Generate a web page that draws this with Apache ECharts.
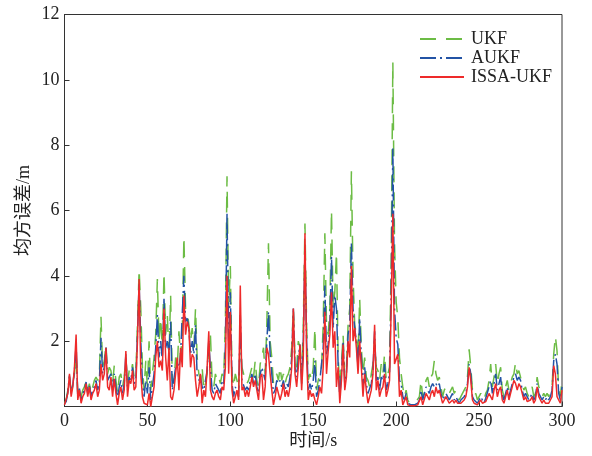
<!DOCTYPE html>
<html>
<head>
<meta charset="utf-8">
<script src="https://cdn.jsdelivr.net/npm/echarts@6/dist/echarts.min.js"></script>
<style>
  html, body { margin: 0; padding: 0; background: #fff; }
  #chart { width: 592px; height: 456px; }
</style>
</head>
<body>
<div id="chart"></div>
<script>
// Sampling: one value per second, t = 0 .. 300 s
const sampleStep = 1;

// UKF mean square error (m)
const ukf = [
  0.1, 0.2, 0.5, 0.9, 0.5, 0.7, 1.0, 1.6, 0.4, 0.6,
  0.3, 0.5, 0.6, 0.8, 0.5, 0.7, 0.4, 0.6, 0.8, 0.9,
  0.8, 0.9, 2.75, 1.2, 1.4, 1.9, 1.0, 1.2, 1.1, 0.7,
  1.25, 0.8, 0.4, 0.9, 1.0, 0.6, 0.9, 1.5, 0.7, 1.1,
  1.0, 1.3, 0.9, 1.0, 2.5, 4.2, 3.0, 1.2, 0.5, 1.4,
  0.6, 2.0, 0.5, 1.0, 1.5, 2.2, 3.9, 2.0, 2.7, 1.8,
  4.1, 2.2, 2.8, 1.5, 3.4, 0.8, 0.7, 1.5, 1.2, 2.3,
  1.5, 2.2, 5.2, 3.0, 2.9, 2.5, 2.0, 2.4, 1.8, 3.0,
  1.5, 1.0, 0.8, 1.2, 0.5, 0.7, 1.0, 1.8, 2.2, 0.8,
  0.6, 1.0, 0.8, 0.9, 0.7, 1.0, 0.9, 2.5, 7.05, 3.0,
  4.3, 1.0, 0.6, 1.0, 0.8, 0.5, 2.2, 1.2, 1.0, 0.8,
  0.7, 0.8, 1.0, 1.2, 0.9, 1.4, 0.8, 0.6, 1.3, 1.5,
  1.8, 1.0, 2.5, 5.0, 2.0, 1.5, 0.7, 0.9, 1.0, 0.8,
  1.2, 0.8, 1.0, 0.7, 0.9, 1.0, 1.2, 1.8, 3.0, 1.5,
  1.2, 2.0, 1.8, 1.0, 2.5, 5.6, 2.5, 0.8, 1.0, 0.8,
  1.2, 2.4, 0.5, 0.8, 1.0, 1.2, 2.5, 5.3, 2.5, 2.2,
  3.0, 6.0, 3.0, 3.5, 4.7, 1.5, 0.6, 1.3, 2.2, 0.9,
  1.2, 2.5, 3.0, 7.2, 4.0, 2.5, 2.2, 1.5, 3.3, 1.8,
  1.0, 1.5, 0.9, 0.8, 0.6, 1.0, 1.3, 2.0, 1.2, 1.1,
  0.8, 1.3, 1.0, 1.6, 0.8, 1.0, 1.2, 4.5, 10.55, 5.0,
  3.2, 2.7, 1.5, 1.0, 0.6, 0.3, 0.5, 0.2, 0.1, 0.1,
  0.1, 0.1, 0.15, 0.2, 0.3, 0.8, 0.3, 0.4, 0.8, 0.9,
  0.6, 0.9, 1.0, 1.4, 1.0, 0.8, 0.9, 0.6, 0.3, 0.5,
  0.6, 0.5, 0.4, 0.5, 0.6, 0.4, 0.5, 0.3, 0.2, 0.3,
  0.4, 0.5, 0.6, 0.9, 1.75, 1.2, 0.5, 0.3, 0.4, 0.2,
  0.3, 0.4, 0.3, 0.2, 0.4, 0.5, 0.8, 1.3, 0.6, 0.9,
  1.3, 0.7, 1.0, 1.2, 0.5, 0.3, 0.6, 0.8, 0.5, 0.7,
  0.9, 1.0, 1.35, 1.0, 1.1, 0.9, 0.7, 0.5, 0.6, 0.4,
  0.3, 0.5, 0.6, 0.3, 0.4, 0.9, 0.6, 0.5, 0.3, 0.4,
  0.3, 0.4, 0.3, 0.5, 0.6, 1.6, 2.15, 1.7, 0.5, 0.3,
  0.8
];

// AUKF mean square error (m)
const aukf = [
  0.08, 0.15, 0.45, 0.95, 0.4, 0.65, 1.1, 1.9, 0.3, 0.55,
  0.2, 0.4, 0.5, 0.75, 0.4, 0.65, 0.3, 0.5, 0.6, 0.8,
  0.5, 0.7, 2.1, 1.0, 1.2, 1.85, 0.8, 0.8, 1.0, 0.5,
  1.0, 0.6, 0.2, 0.6, 0.8, 0.4, 0.7, 1.6, 0.5, 0.9,
  0.8, 1.2, 0.7, 0.8, 2.2, 3.8, 2.0, 0.7, 0.3, 0.8,
  0.4, 1.2, 0.2, 0.6, 1.0, 1.8, 2.8, 1.5, 2.0, 1.4,
  3.3, 1.8, 2.0, 1.6, 2.6, 0.5, 0.5, 1.2, 1.3, 1.2,
  1.6, 1.6, 4.0, 2.6, 2.7, 2.4, 1.6, 2.0, 1.6, 2.5,
  0.9, 0.8, 0.9, 0.6, 0.5, 0.5, 1.1, 2.0, 1.2, 0.5,
  0.4, 0.7, 0.6, 0.6, 0.4, 0.8, 0.7, 1.8, 5.9, 2.0,
  3.5, 0.7, 0.3, 0.6, 0.6, 0.3, 2.8, 0.8, 0.8, 0.5,
  0.6, 0.5, 0.8, 1.0, 0.7, 1.0, 0.6, 0.4, 1.0, 1.2,
  1.2, 0.8, 2.0, 2.9, 1.6, 1.0, 0.4, 0.5, 0.8, 0.7,
  0.8, 0.6, 0.8, 0.5, 0.7, 0.6, 0.9, 1.5, 3.0, 1.2,
  0.9, 1.5, 1.9, 0.7, 2.0, 4.8, 2.0, 0.5, 0.7, 0.5,
  0.8, 1.4, 0.3, 0.5, 0.8, 0.8, 1.8, 3.7, 1.6, 1.9,
  2.5, 4.6, 2.4, 3.4, 3.0, 1.3, 0.3, 1.0, 2.0, 0.7,
  1.0, 2.2, 2.5, 5.0, 3.0, 2.4, 2.0, 1.2, 2.7, 1.5,
  0.6, 1.2, 0.7, 0.4, 0.4, 0.7, 1.1, 2.3, 0.8, 0.9,
  0.5, 0.9, 0.8, 1.3, 0.5, 0.7, 1.0, 3.5, 7.9, 3.0,
  2.1, 1.9, 0.8, 0.7, 0.3, 0.2, 0.4, 0.1, 0.05, 0.05,
  0.05, 0.05, 0.08, 0.1, 0.2, 0.5, 0.2, 0.25, 0.6, 0.5,
  0.4, 0.6, 0.7, 0.6, 0.7, 0.6, 0.7, 0.4, 0.2, 0.3,
  0.4, 0.3, 0.2, 0.3, 0.4, 0.2, 0.3, 0.2, 0.1, 0.2,
  0.25, 0.3, 0.4, 0.7, 1.3, 1.0, 0.3, 0.2, 0.25, 0.1,
  0.2, 0.3, 0.2, 0.1, 0.25, 0.3, 0.6, 0.8, 0.4, 0.7,
  1.0, 0.5, 0.7, 0.9, 0.35, 0.2, 0.4, 0.6, 0.3, 0.5,
  0.7, 0.9, 1.0, 0.8, 0.9, 0.8, 0.5, 0.3, 0.4, 0.3,
  0.2, 0.3, 0.4, 0.2, 0.3, 0.7, 0.4, 0.3, 0.2, 0.3,
  0.2, 0.3, 0.2, 0.3, 0.5, 1.4, 1.6, 1.3, 0.4, 0.2,
  0.6
];

// ISSA-UKF mean square error (m)
const issaUkf = [
  0.05, 0.1, 0.4, 1.0, 0.3, 0.6, 1.2, 2.2, 0.2, 0.5,
  0.1, 0.3, 0.4, 0.7, 0.3, 0.6, 0.2, 0.4, 0.5, 0.7,
  0.3, 0.5, 1.3, 0.8, 1.0, 1.8, 0.6, 0.5, 0.9, 0.3,
  0.85, 0.4, 0.05, 0.4, 0.6, 0.2, 0.5, 1.7, 0.3, 0.8,
  0.7, 1.1, 0.5, 0.6, 2.0, 3.9, 1.0, 0.3, 0.1, 0.15,
  0.05, 0.4, 0.0, 0.3, 0.6, 1.5, 2.0, 1.2, 1.4, 1.1,
  3.0, 1.5, 0.8, 1.8, 0.3, 0.2, 0.5, 1.0, 1.5, 0.5,
  1.8, 1.2, 3.4, 2.2, 2.6, 2.4, 1.2, 1.6, 1.5, 0.8,
  0.3, 0.6, 1.0, 0.1, 0.5, 0.3, 1.2, 2.3, 0.5, 0.3,
  0.2, 0.4, 0.5, 0.3, 0.2, 0.6, 0.5, 1.2, 4.0, 1.0,
  2.9, 0.5, 0.1, 0.3, 0.5, 0.2, 3.7, 0.5, 0.6, 0.3,
  0.5, 0.3, 0.6, 0.9, 0.6, 0.8, 0.5, 0.2, 0.9, 1.0,
  0.2, 0.6, 1.8, 1.6, 1.0, 0.5, 0.05, 0.3, 0.6, 0.6,
  0.2, 0.4, 0.7, 0.3, 0.5, 0.3, 0.6, 1.2, 3.0, 1.0,
  0.6, 1.2, 1.9, 0.5, 1.5, 5.3, 1.5, 0.2, 0.5, 0.3,
  0.4, 0.2, 0.05, 0.3, 0.6, 0.4, 1.2, 2.9, 1.0, 1.7,
  2.2, 3.5, 1.8, 2.3, 0.6, 1.2, 0.1, 0.8, 1.9, 0.5,
  0.9, 2.0, 1.5, 4.3, 2.0, 2.4, 1.8, 1.0, 2.0, 1.2,
  0.3, 1.0, 0.5, 0.1, 0.3, 0.5, 1.0, 2.5, 0.5, 0.8,
  0.3, 0.5, 0.6, 1.0, 0.3, 0.5, 0.8, 3.0, 5.9, 1.3,
  1.3, 1.6, 0.3, 0.5, 0.05, 0.1, 0.3, 0.05, 0.02, 0.02,
  0.02, 0.02, 0.02, 0.05, 0.1, 0.3, 0.05, 0.1, 0.4, 0.3,
  0.2, 0.4, 0.5, 0.3, 0.6, 0.4, 0.5, 0.3, 0.1, 0.2,
  0.3, 0.2, 0.1, 0.15, 0.2, 0.1, 0.2, 0.1, 0.05, 0.1,
  0.15, 0.2, 0.3, 0.6, 1.2, 0.8, 0.2, 0.1, 0.15, 0.05,
  0.1, 0.2, 0.1, 0.05, 0.15, 0.2, 0.4, 0.3, 0.2, 0.5,
  0.7, 0.3, 0.5, 0.6, 0.2, 0.1, 0.3, 0.5, 0.2, 0.4,
  0.6, 0.8, 0.7, 0.5, 0.7, 0.6, 0.4, 0.2, 0.3, 0.15,
  0.1, 0.2, 0.3, 0.1, 0.2, 0.6, 0.3, 0.2, 0.1, 0.2,
  0.1, 0.15, 0.1, 0.2, 0.3, 1.25, 1.0, 0.3, 0.2, 0.1,
  0.5
];

const seriesNames = ['UKF', 'AUKF', 'ISSA-UKF'];
const xTicks = [0, 50, 100, 150, 200, 250, 300];
const yTicks = [0, 2, 4, 6, 8, 10, 12];

function toPairs(values) {
  return values.map((v, i) => [i * sampleStep, v]);
}

const serif = '"Liberation Serif", "Times New Roman", "Noto Sans CJK SC", serif';
const axisColor = '#333';
const textColor = '#222';

const chart = echarts.init(document.getElementById('chart'), null, { renderer: 'canvas' });

chart.setOption({
  animation: false,
  backgroundColor: '#fff',
  grid: {
    left: 64.5, right: 30, top: 14.5, bottom: 49.5,
    show: true, borderColor: axisColor, borderWidth: 1, backgroundColor: 'transparent'
  },
  legend: {
    orient: 'vertical',
    left: 414, top: 25,
    itemWidth: 44, itemHeight: 12, itemGap: 1,
    data: seriesNames,
    // line-only keys: hide the marker symbol drawn over the line sample
    itemStyle: { opacity: 0 },
    textStyle: { fontFamily: serif, fontSize: 18, lineHeight: 17, color: textColor, padding: [0, 0, 0, 2] }
  },
  xAxis: {
    type: 'value',
    min: xTicks[0], max: xTicks[xTicks.length - 1], interval: 50,
    name: '时间/s', nameLocation: 'middle', nameGap: 26,
    nameMoveOverlap: false,
    nameTextStyle: { fontFamily: serif, fontSize: 18, color: textColor },
    axisLine: { lineStyle: { color: axisColor, width: 1 } },
    axisTick: { inside: true, length: 5, lineStyle: { color: axisColor } },
    axisLabel: { fontFamily: serif, fontSize: 18, color: textColor, margin: 6 },
    splitLine: { show: false }
  },
  yAxis: {
    type: 'value',
    min: yTicks[0], max: yTicks[yTicks.length - 1], interval: 2,
    name: '均方误差/m', nameLocation: 'middle', nameGap: 31,
    nameMoveOverlap: false,
    nameTextStyle: { fontFamily: serif, fontSize: 18, color: textColor },
    axisLine: { lineStyle: { color: axisColor, width: 1 } },
    axisTick: { inside: true, length: 5, lineStyle: { color: axisColor } },
    axisLabel: {
      fontFamily: serif, fontSize: 18, color: textColor, margin: 5,
      formatter: v => (v === 0 ? '' : String(v))
    },
    splitLine: { show: false }
  },
  series: [
    {
      name: seriesNames[0], type: 'line', data: toPairs(ukf),
      symbol: 'none', z: 2,
      lineStyle: { color: '#6cbc45', width: 1.5, type: [16, 10] },
      itemStyle: { color: '#6cbc45' }
    },
    {
      name: seriesNames[1], type: 'line', data: toPairs(aukf),
      symbol: 'none', z: 3,
      lineStyle: { color: '#2353a5', width: 1.5, type: [16, 4, 2, 4] },
      itemStyle: { color: '#2353a5' }
    },
    {
      name: seriesNames[2], type: 'line', data: toPairs(issaUkf),
      symbol: 'none', z: 4,
      lineStyle: { color: '#ee2a2a', width: 1.5 },
      itemStyle: { color: '#ee2a2a' }
    }
  ]
});
</script>
</body>
</html>
